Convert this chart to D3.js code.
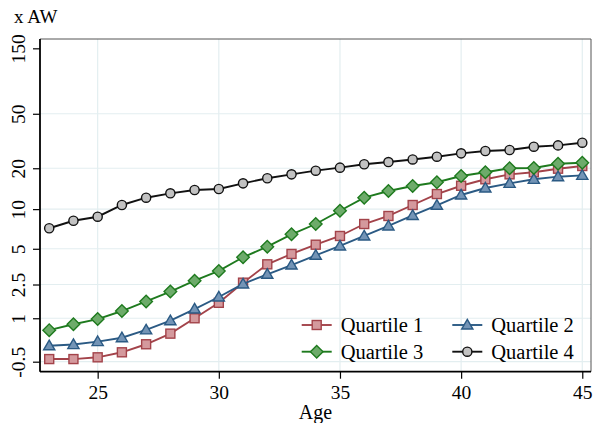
<!DOCTYPE html>
<html>
<head>
<meta charset="utf-8">
<script src="https://cdn.jsdelivr.net/npm/d3@7"></script>
<style>
  html, body { margin: 0; padding: 0; background: #fff; }
  svg { display: block; font-family: "Liberation Serif", "Times New Roman", serif; }
</style>
</head>
<body>
<svg id="chart" width="594" height="423"></svg>
<script>
// ---- data ----
const ages = [23,24,25,26,27,28,29,30,31,32,33,34,35,36,37,38,39,40,41,42,43,44,45];
const quartile1 = [-0.41,-0.41,-0.35,-0.18,0.09,0.45,1.0,1.62,2.6,3.75,4.55,5.38,6.28,7.74,8.89,10.73,12.93,14.88,16.6,18.05,18.68,19.85,20.77];
const quartile2 = [0.04,0.08,0.18,0.31,0.58,0.91,1.36,1.88,2.53,3.09,3.7,4.44,5.26,6.28,7.48,8.97,10.68,12.73,14.32,15.5,16.6,17.35,17.75];
const quartile3 = [0.57,0.78,0.97,1.28,1.68,2.14,2.71,3.3,4.28,5.19,6.47,7.74,9.73,12.15,13.62,14.81,15.79,17.54,18.68,19.99,20.1,21.6,21.95];
const quartile4 = [7.19,8.19,8.78,10.73,12.15,13.09,13.85,14.08,15.5,16.9,18.05,19.2,20.2,21.4,22.2,23.2,24.3,25.7,26.75,27.2,28.75,29.4,30.75];
const seriesNames = ["Quartile 1","Quartile 2","Quartile 3","Quartile 4"];
const yTicks = [-0.5, 1, 2.5, 5, 10, 20, 50, 150];
const yTickLabels = ["-0.5","1","2.5","5","10","20","50","150"];
const xTicks = [25, 30, 35, 40, 45];
const yTitle = "x AW";
const xTitle = "Age";

// ---- styles ----
const styles = [
  {stroke:"#a3434a", fill:"#d4999d", shape:"square"},
  {stroke:"#2b5a84", fill:"#7394b6", shape:"triangle"},
  {stroke:"#1e7a1e", fill:"#6dab6a", shape:"diamond"},
  {stroke:"#111111", fill:"#c2c2c2", shape:"circle"}
];
const allSeries = [quartile1, quartile2, quartile3, quartile4];

const svg = d3.select("#chart");
const L = 40, R = 591, T = 39, B = 371.7;

const x = d3.scaleLinear().domain([22.62, 45.36]).range([L, R]);
// inverse hyperbolic sine transform: asinh(v/2)
const tr = v => Math.asinh(v / 2);
const yLin = d3.scaleLinear().domain([tr(-0.855), tr(175.4)]).range([B, T]);
const y = v => yLin(tr(v));

// gridlines
const gridColor = "#e3eef0";
svg.append("g").selectAll("line").data(yTicks.filter(v => v !== 150)).join("line")
  .attr("x1", L).attr("x2", R).attr("y1", d => y(d)).attr("y2", d => y(d))
  .attr("stroke", gridColor).attr("stroke-width", 1.2);
svg.append("g").selectAll("line").data(xTicks).join("line")
  .attr("y1", T).attr("y2", B).attr("x1", d => x(d)).attr("x2", d => x(d))
  .attr("stroke", gridColor).attr("stroke-width", 1.2);

// frame top & right
svg.append("line").attr("x1", L).attr("x2", R).attr("y1", T).attr("y2", T).attr("stroke", "#555").attr("stroke-width", 1);
svg.append("line").attr("x1", R).attr("x2", R).attr("y1", T).attr("y2", B).attr("stroke", "#555").attr("stroke-width", 1);

// axes
const yAxis = d3.axisLeft(yLin).tickValues(yTicks.map(tr)).tickSize(7)
  .tickFormat((d, i) => yTickLabels[i]);
const gy = svg.append("g").attr("transform", `translate(${L},0)`).call(yAxis);
gy.select(".domain").attr("d", `M0,${T}V${B}`).attr("stroke", "#000").attr("stroke-width", 1.8);
gy.selectAll(".tick line").attr("stroke", "#000").attr("stroke-width", 1.2);
gy.selectAll(".tick text")
  .attr("x", null).attr("dy", null)
  .attr("transform", "translate(-15.5,0) rotate(-90)")
  .attr("text-anchor", "middle")
  .attr("font-family", "Liberation Serif, serif")
  .attr("font-size", 19.5).attr("fill", "#000");

const xAxis = d3.axisBottom(x).tickValues(xTicks).tickSize(7).tickFormat(d3.format("d"));
const gx = svg.append("g").attr("transform", `translate(0,${B})`).call(xAxis);
gx.select(".domain").attr("d", `M${L},0H${R}`).attr("stroke", "#000").attr("stroke-width", 1.8);
gx.selectAll(".tick line").attr("stroke", "#000").attr("stroke-width", 1.2);
gx.selectAll(".tick text").attr("y", 13).attr("dy", "0.71em")
  .attr("font-family", "Liberation Serif, serif").attr("font-size", 19.5).attr("fill", "#000");

// titles
svg.append("text").attr("x", 14).attr("y", 23).attr("font-size", 19).text(yTitle);
svg.append("text").attr("x", (L + R) / 2).attr("y", 419).attr("text-anchor", "middle").attr("font-size", 20).text(xTitle);

// markers
function drawMarker(g, shape, cx, cy, st) {
  let m;
  if (shape === "circle") {
    m = g.append("circle").attr("cx", cx).attr("cy", cy).attr("r", 4.6);
  } else if (shape === "square") {
    m = g.append("rect").attr("x", cx - 4.5).attr("y", cy - 4.5).attr("width", 9).attr("height", 9);
  } else if (shape === "diamond") {
    const s = 6.3;
    m = g.append("path").attr("d", `M${cx},${cy - s}L${cx + s},${cy}L${cx},${cy + s}L${cx - s},${cy}Z`);
  } else {
    const s = 5.6;
    m = g.append("path").attr("d", `M${cx},${cy - s}L${cx + s},${cy + s * 0.72}L${cx - s},${cy + s * 0.72}Z`);
  }
  m.attr("fill", st.fill).attr("stroke", st.stroke).attr("stroke-width", 1.4);
}

const line = d3.line().x(d => x(d[0])).y(d => y(d[1]));
allSeries.forEach((vals, i) => {
  const st = styles[i];
  const pts = ages.map((a, j) => [a, vals[j]]);
  const g = svg.append("g");
  g.append("path").datum(pts).attr("d", line).attr("fill", "none")
    .attr("stroke", st.stroke).attr("stroke-width", 1.9);
  pts.forEach(p => drawMarker(g, st.shape, x(p[0]), y(p[1]), st));
});

// legend
const legPos = [
  {lx: 301.7, ty: 325},
  {lx: 452.3, ty: 325},
  {lx: 301.7, ty: 351.7},
  {lx: 452.3, ty: 351.7}
];
const legOrder = [0, 1, 2, 3];
legOrder.forEach((si, k) => {
  const p = legPos[k], st = styles[si];
  const g = svg.append("g");
  g.append("line").attr("x1", p.lx).attr("x2", p.lx + 30).attr("y1", p.ty).attr("y2", p.ty)
    .attr("stroke", st.stroke).attr("stroke-width", 1.9);
  drawMarker(g, st.shape, p.lx + 15, p.ty, st);
  g.append("text").attr("x", p.lx + 39).attr("y", p.ty + 7)
    .attr("font-size", 20.5).text(seriesNames[si]);
});
</script>
</body>
</html>
